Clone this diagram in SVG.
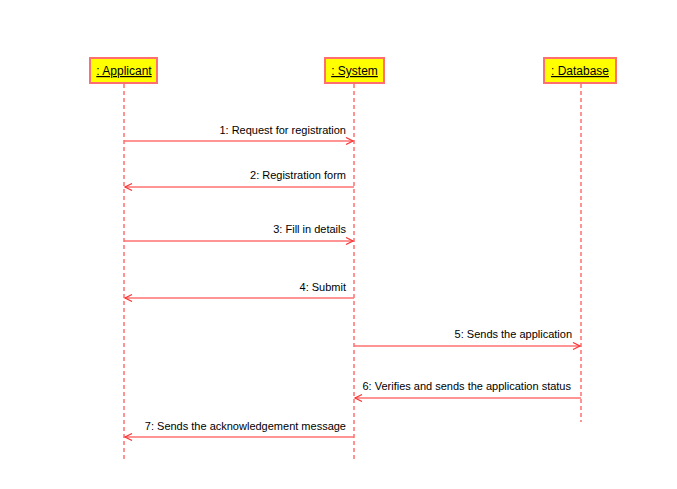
<svg xmlns="http://www.w3.org/2000/svg" width="677" height="489" viewBox="0 0 677 489">
<style>
.box{fill:#FFFF00;stroke:#FF6F6F;stroke-width:2}
.name{font-family:"Liberation Sans",Arial,sans-serif;font-size:12px;fill:#000;text-decoration:underline;text-anchor:middle}
.life{stroke:#FF7070;stroke-width:1.5;stroke-dasharray:4,3;fill:none}
.msg{stroke:#FF7070;stroke-width:1.3;fill:none}
.lbl{font-family:"Liberation Sans",Arial,sans-serif;font-size:11px;fill:#000;text-anchor:end}
</style>
<defs>
<marker id="arr" markerWidth="10" markerHeight="10" refX="8" refY="4" orient="auto" markerUnits="userSpaceOnUse">
<path d="M1,0.5 L8,4 L1,7.5" fill="none" stroke="#FF3030" stroke-width="1.2"/>
</marker>
</defs>
<rect width="677" height="489" fill="#fff"/>
<g id="applicant">
<rect class="box" x="90" y="58" width="67" height="25"/>
<text class="name" x="124" y="75">: Applicant</text>
<line class="life" x1="124" y1="84" x2="124" y2="462"/>
</g>
<g id="system">
<rect class="box" x="325" y="58" width="59" height="25"/>
<text class="name" x="354.5" y="75">: System</text>
<line class="life" x1="354" y1="84" x2="354" y2="462"/>
</g>
<g id="database">
<rect class="box" x="544" y="58" width="72" height="25"/>
<text class="name" x="580" y="75">: Database</text>
<line class="life" x1="581" y1="84" x2="581" y2="422"/>
</g>
<g id="connectors">
<line class="msg" x1="124" y1="141" x2="353" y2="141" marker-end="url(#arr)"/>
<text class="lbl" x="346" y="134">1: Request for registration</text>
<line class="msg" x1="354" y1="187" x2="125" y2="187" marker-end="url(#arr)"/>
<text class="lbl" x="346" y="179">2: Registration form</text>
<line class="msg" x1="124" y1="241" x2="353" y2="241" marker-end="url(#arr)"/>
<text class="lbl" x="346" y="233">3: Fill in details</text>
<line class="msg" x1="354" y1="298" x2="125" y2="298" marker-end="url(#arr)"/>
<text class="lbl" x="346" y="291">4: Submit</text>
<line class="msg" x1="354" y1="346" x2="580" y2="346" marker-end="url(#arr)"/>
<text class="lbl" x="572" y="338">5: Sends the application</text>
<line class="msg" x1="581" y1="398" x2="355" y2="398" marker-end="url(#arr)"/>
<text class="lbl" x="571" y="390">6: Verifies and sends the application status</text>
<line class="msg" x1="354" y1="437" x2="125" y2="437" marker-end="url(#arr)"/>
<text class="lbl" x="346" y="430">7: Sends the acknowledgement message</text>
</g>
</svg>
